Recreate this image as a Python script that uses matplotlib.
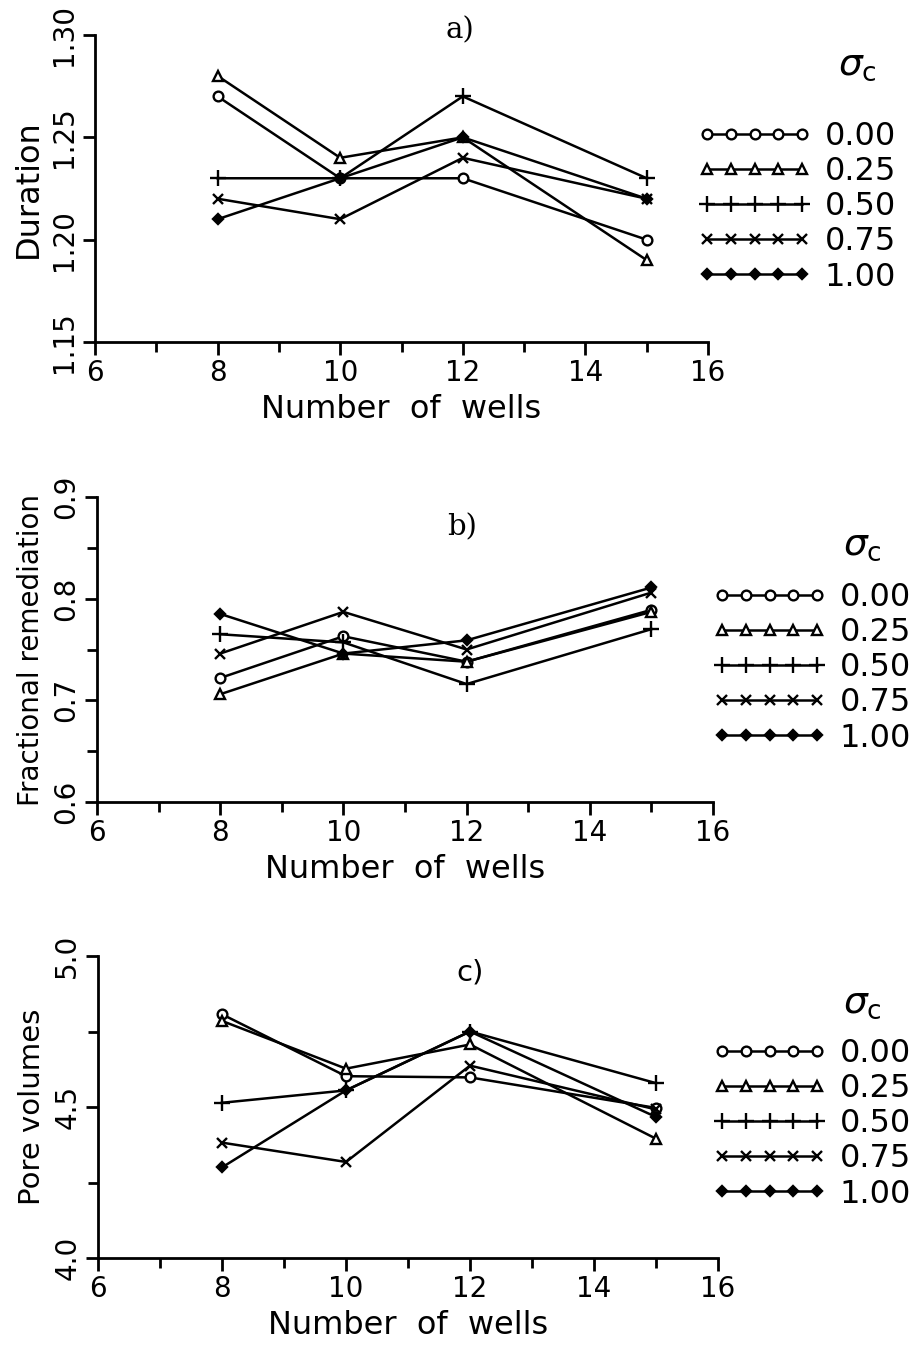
import matplotlib.pyplot as plt
from matplotlib.ticker import MultipleLocator, FormatStrFormatter

# data
wells = [8, 10, 12, 15]
sigma_c = ['0.00', '0.25', '0.50', '0.75', '1.00']

duration = [
    [1.27, 1.23, 1.23, 1.20],
    [1.28, 1.24, 1.25, 1.19],
    [1.23, 1.23, 1.27, 1.23],
    [1.22, 1.21, 1.24, 1.22],
    [1.21, 1.23, 1.25, 1.22],
]
frac_rem = [
    [0.722, 0.763, 0.738, 0.789],
    [0.706, 0.746, 0.738, 0.787],
    [0.765, 0.757, 0.716, 0.770],
    [0.746, 0.787, 0.750, 0.806],
    [0.785, 0.746, 0.759, 0.811],
]
pore_vol = [
    [4.807, 4.602, 4.598, 4.497],
    [4.785, 4.627, 4.707, 4.395],
    [4.514, 4.555, 4.750, 4.579],
    [4.382, 4.318, 4.637, 4.492],
    [4.300, 4.555, 4.750, 4.467],
]

markers = ['o', '^', '+', 'x', 'D']
msizes = [7, 7, 11, 7, 5]

plt.rcParams['font.family'] = ['DejaVu Sans']

W, H = 914, 1346
fig = plt.figure(figsize=(W / 100, H / 100), dpi=100)


def px_axes(left, top, right, bottom):
    return fig.add_axes([left / W, 1 - bottom / H, (right - left) / W, (bottom - top) / H])


def draw_panel(ax, data, ylabel, ysize, ylim, major, minor, fmt):
    lines = []
    for vals, m, ms in zip(data, markers, msizes):
        ln, = ax.plot(wells, vals, color='black', lw=1.8, marker=m, ms=ms,
                      mfc='white' if m in ('o', '^') else 'black',
                      mec='black', mew=1.7)
        lines.append(ln)
    ax.set_xlim(6, 16)
    ax.set_ylim(*ylim)
    ax.xaxis.set_major_locator(MultipleLocator(2))
    ax.xaxis.set_minor_locator(MultipleLocator(1))
    ax.yaxis.set_major_locator(MultipleLocator(major))
    ax.yaxis.set_minor_locator(MultipleLocator(minor))
    ax.yaxis.set_major_formatter(FormatStrFormatter(fmt))
    for s in ['top', 'right']:
        ax.spines[s].set_visible(False)
    for s in ['left', 'bottom']:
        ax.spines[s].set_linewidth(2)
    ax.tick_params(which='major', direction='out', length=9, width=2, labelsize=20, pad=3)
    ax.tick_params(which='minor', direction='out', length=7, width=2)
    plt.setp(ax.get_yticklabels(), rotation=90, va='center')
    ax.set_xlabel('Number  of  wells', fontsize=23, labelpad=5)
    ax.set_ylabel(ylabel, fontsize=ysize, labelpad=5)
    return lines


# a) duration
ax1 = px_axes(95, 35, 708, 342)
l1 = draw_panel(ax1, duration, 'Duration', 23, (1.15, 1.30), 0.05, 0.05, '%.2f')
# b) fractional remediation
ax2 = px_axes(97, 497, 713, 802)
l2 = draw_panel(ax2, frac_rem, 'Fractional remediation', 20, (0.6, 0.9), 0.1, 0.05, '%.1f')
# c) pore volumes
ax3 = px_axes(98, 956, 718, 1258)
l3 = draw_panel(ax3, pore_vol, 'Pore volumes', 21, (4.0, 5.0), 0.5, 0.25, '%.1f')

# panel letters
fig.text(460 / W, 1 - 30 / H, 'a)', family='DejaVu Serif', fontsize=21, ha='center', va='center')
fig.text(462 / W, 1 - 527 / H, 'b)', family='DejaVu Serif', fontsize=21, ha='center', va='center')
fig.text(470 / W, 1 - 972 / H, 'c)', fontsize=21, ha='center', va='center')

# legends
for ax, lines, x0, ytop, xs, ys in [(ax1, l1, 697, 121, 857, 65),
                                    (ax2, l2, 712, 582, 862, 545),
                                    (ax3, l3, 712, 1038, 862, 1003)]:
    ax.legend(lines, sigma_c, loc='upper left', bbox_to_anchor=(x0 / W, 1 - ytop / H),
              bbox_transform=fig.transFigure, frameon=False, numpoints=5,
              handlelength=3.6, fontsize=23, labelspacing=0.13, borderaxespad=0,
              borderpad=0, handletextpad=0.4)
    fig.text(xs / W, 1 - ys / H, r'$\sigma_{\rm c}$', fontsize=27, ha='center', va='center')

fig.savefig('out.png', dpi=100)
